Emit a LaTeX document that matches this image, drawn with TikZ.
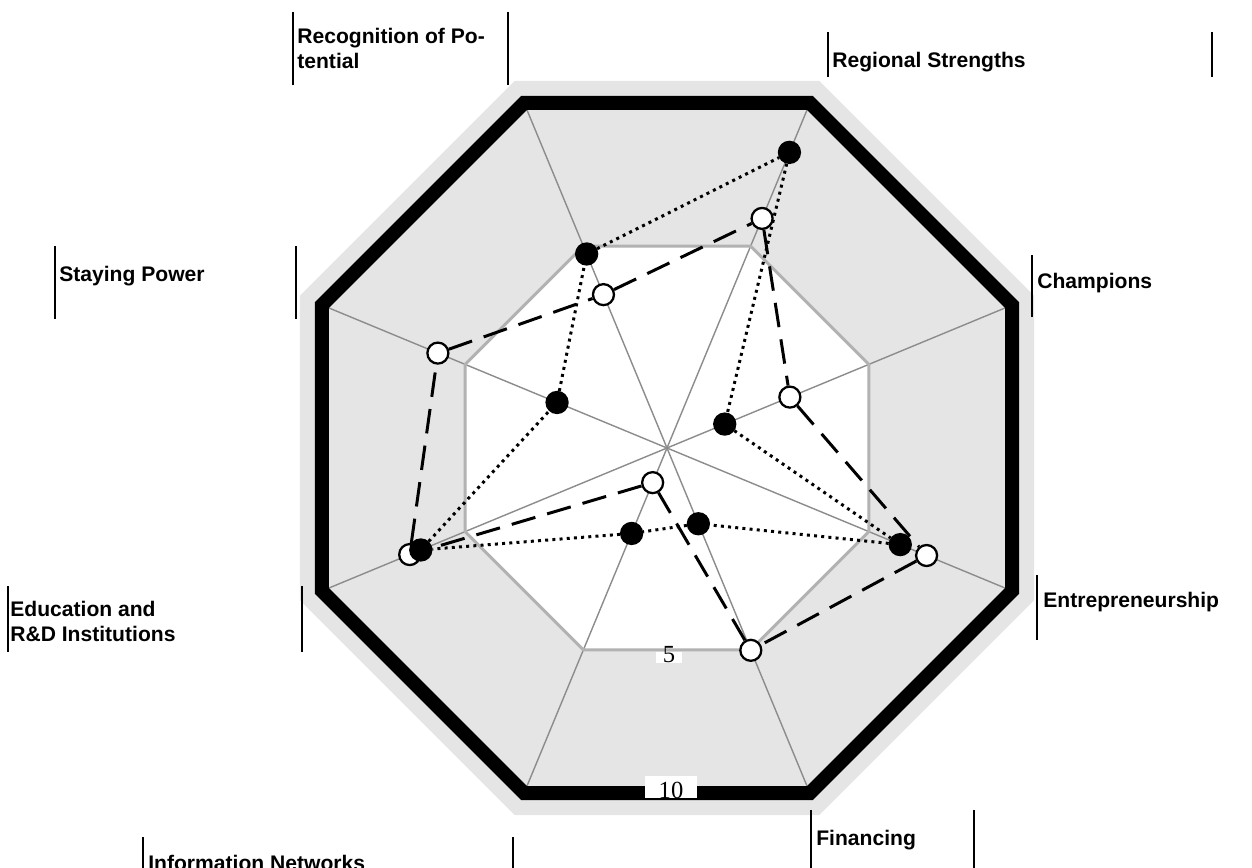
\documentclass[tikz,border=0pt]{standalone}
\usepackage{fontspec}
\setmainfont{Liberation Serif}
\setsansfont{Liberation Sans}
\usepackage{tikz}
\usetikzlibrary{positioning, calc}

\pgfdeclarelayer{fond}
\pgfdeclarelayer{traits}
\pgfsetlayers{fond,traits,main}

\tikzset{
  lbl/.style={anchor=north west, inner sep=0pt, align=left, font=\fontsize{12}{14}\selectfont\sffamily\bfseries},
  bar/.style={line width=1.1pt},
  val/.style={anchor=base, fill=white, inner ysep=0pt, text depth=0pt, font=\fontsize{14}{14}\selectfont\rmfamily},
  spoke/.style={draw=black!45, line width=0.8pt},
  pt/.style={circle, draw=black, line width=1.3pt, minimum size=0.42cm, inner sep=0pt},
  ptA/.style={pt, fill=black},
  ptB/.style={pt, fill=white},
  serA/.style={line width=1.7pt, dash pattern=on 1.7pt off 2.4pt},
  serB/.style={line width=1.7pt, dash pattern=on 14pt off 7pt},
}

\begin{document}
\begin{tikzpicture}
    \useasboundingbox (-13.34,-8.40) rectangle (11.70,8.96);

    % Octogones
    \begin{pgfonlayer}{fond}
    \fill[gray!20] (22.5:7.95) \foreach \a in {67.5,112.5,...,337.5} {-- (\a:7.95)} -- cycle;
    \fill[white] (22.5:4.37) \foreach \a in {67.5,112.5,...,337.5} {-- (\a:4.37)} -- cycle;
    \foreach \a in {22.5,67.5,...,337.5}
        \draw[spoke] (0,0) -- (\a:7.47);
    \draw[black!30, line width=1.7pt] (22.5:4.37) \foreach \a in {67.5,112.5,...,337.5} {-- (\a:4.37)} -- cycle;
    \draw[line width=0.28cm] (22.5:7.47) \foreach \a in {67.5,112.5,...,337.5} {-- (\a:7.47)} -- cycle;
    \end{pgfonlayer}

    % Graduations
    \node[val, inner xsep=0.135cm, text height=0.22cm] (v5) at (0.04,-4.30) {5};
    \node[val, inner xsep=0.27cm, text height=0.44cm] (v10) at (0.08,-7.00) {10};

    % Axes
    \node[lbl] (rec) at (-7.40,8.40) {Recognition of Po-\\tential};
    \node[lbl] (reg) at (3.30,7.92) {Regional Strengths};
    \node[lbl] (cha) at (7.40,3.50) {Champions};
    \node[lbl] (ent) at (7.52,-2.88) {Entrepreneurship};
    \node[lbl] (fin) at (2.98,-7.64) {Financing};
    \node[lbl] (inf) at (-10.38,-8.14) {Information Networks};
    \node[lbl] (edu) at (-13.14,-3.06) {Education and\\R\&D Institutions};
    \node[lbl] (sta) at (-12.16,3.64) {Staying Power};

    \draw[bar] ([shift={(-0.08,0.32)}]rec.north west) -- ++(0,-1.46) ++(4.30,0) -- ++(0,1.46);
    \draw[bar] ([shift={(-0.08,0.40)}]reg.north west) -- ++(0,-0.90) ++(7.68,0) -- ++(0,0.90);
    \draw[bar] ([shift={(-0.10,0.36)}]cha.north west) -- ++(0,-1.24);
    \draw[bar] ([shift={(-0.12,0.34)}]ent.north west) -- ++(0,-1.30);
    \draw[bar] ([shift={(-0.10,0.40)}]fin.north west) -- ++(0,-1.40) ++(3.26,0) -- ++(0,1.40);
    \draw[bar] ([shift={(-0.10,0.36)}]inf.north west) -- ++(0,-1.00) ++(7.40,0) -- ++(0,1.00);
    \draw[bar] ([shift={(-0.04,0.30)}]edu.north west) -- ++(0,-1.32) ++(5.88,0) -- ++(0,1.32);
    \draw[bar] ([shift={(-0.08,0.40)}]sta.north west) -- ++(0,-1.46) ++(4.82,0) -- ++(0,1.46);

    % Valeurs
    \foreach \ang/\r [count=\i] in {112.5/3.32, 67.5/4.97, 22.5/2.66, -22.5/5.62, -67.5/4.38, -112.5/0.75, -157.5/5.57, 157.5/4.96}
        \node[ptB] (b\i) at (\ang:\r) {};
    \foreach \ang/\r [count=\i] in {112.5/4.20, 67.5/6.40, 22.5/1.25, -22.5/5.05, -67.5/1.64, -112.5/1.85, -157.5/5.33, 157.5/2.38}
        \node[ptA] (a\i) at (\ang:\r) {};

    \begin{pgfonlayer}{traits}
    \draw[serB] (b1) -- (b2) -- (b3) -- (b4) -- (b5) -- (b6) -- (b7) -- (b8) -- (b1);
    \draw[serA] (a1) -- (a2) -- (a3) -- (a4) -- (a5) -- (a6) -- (a7) -- (a8) -- (a1);
    \end{pgfonlayer}
\end{tikzpicture}
\end{document}
